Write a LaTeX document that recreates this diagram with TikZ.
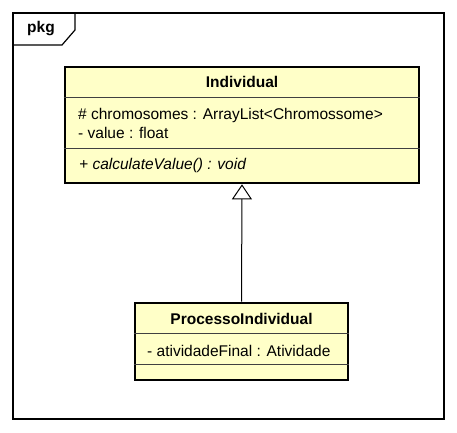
\documentclass[tikz,border=0pt]{standalone}
\usepackage{fontspec}
\setmainfont{Liberation Sans}
\usetikzlibrary{arrows.meta, positioning}

\definecolor{classfill}{RGB}{255,255,200}
\tikzset{
  classbox/.style={draw, line width=2.6pt, fill=classfill, inner sep=0pt},
  sepline/.style={line width=0.8pt, black!75},
  member/.style={anchor=west, inner sep=0pt},
  generalize/.style={-{Triangle[open, width=20pt, length=15pt, fill=white]}, line width=1pt}
}

\begin{document}
\begin{tikzpicture}[x=1pt, y=-1pt, font=\fontsize{15.5}{18}\selectfont]
\useasboundingbox (0,0) rectangle (457,432);
% package frame
\draw[line width=1.4pt] (13,13) rectangle (444,419);
\draw[line width=1.2pt] (13,45) -- (62,45) -- (75,30) -- (75,13);
\node (pkg) at (41,29) {\bfseries pkg};

% Individual
\node[classbox, minimum width=354pt, minimum height=116pt] (ind) at (242,125) {};
\draw[sepline] (ind.west |- 0,97) -- (ind.east |- 0,97);
\draw[sepline] (ind.west |- 0,148) -- (ind.east |- 0,148);
\node (indname) at (242,82) {\bfseries Individual};
\node[member] (chrom) at (78,115) {\# chromosomes : ArrayList<Chromossome>};
\node[member] (val) at (78,133) {- value : float};
\node[member] (calc) at (79,165) {\itshape + calculateValue() : void};

% ProcessoIndividual
\node[classbox, minimum width=213pt, minimum height=77pt] (proc) at (241.5,341.5) {};
\draw[sepline] (proc.west |- 0,333) -- (proc.east |- 0,333);
\draw[sepline] (proc.west |- 0,364) -- (proc.east |- 0,364);
\node (procname) at (241.5,319) {\bfseries ProcessoIndividual};
\node[member] (ativ) at (147,351) {- atividadeFinal : Atividade};

\draw[generalize] (proc.north) -- (ind.south);
\end{tikzpicture}
\end{document}
